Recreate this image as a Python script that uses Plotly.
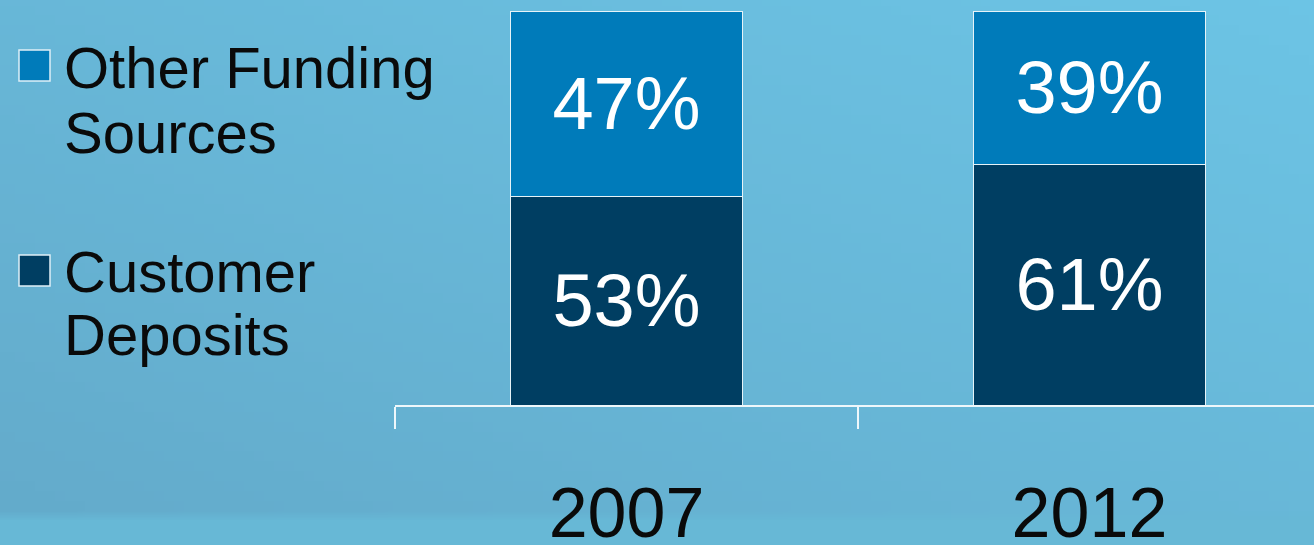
import base64
import struct
import zlib

import plotly.graph_objects as go

years = ["2007", "2012"]
series_names = ["Customer Deposits", "Other Funding Sources"]
customer_deposits = [53, 61]
other_funding = [47, 39]
colors = {"Customer Deposits": "#003E62", "Other Funding Sources": "#007BBA"}

W, H = 1314, 545
L, R, T, B = 395, 0, 11, 140
pw, ph = W - L - R, H - T - B


def px_x(p):
    return (p - L) / pw


def px_y(p):
    return (H - B - p) / ph


FONT = "Arial, Liberation Sans, sans-serif"


# ---- subtle background gradient (decorative) as a small PNG ----
def gradient_png(w=132, h=55):
    tr = (108, 196, 229)   # top-right
    bl = (99, 170, 202)    # bottom-left
    band = (103, 184, 214)  # bottom strip
    rows = b""
    for j in range(h):
        row = b"\x00"
        for i in range(w):
            t = 0.5 * (i / (w - 1)) + 0.5 * (1 - j / (h - 1))  # 1 at top-right
            c = [round(bl[k] + (tr[k] - bl[k]) * t) for k in range(3)]
            if j >= int(h * 520 / 545):
                c = list(band)
            row += bytes(c)
        rows += row

    def chunk(tag, data):
        return struct.pack(">I", len(data)) + tag + data + struct.pack(">I", zlib.crc32(tag + data) & 0xFFFFFFFF)

    png = b"\x89PNG\r\n\x1a\n"
    png += chunk(b"IHDR", struct.pack(">IIBBBBB", w, h, 8, 2, 0, 0, 0))
    png += chunk(b"IDAT", zlib.compress(rows, 9))
    png += chunk(b"IEND", b"")
    return "data:image/png;base64," + base64.b64encode(png).decode()


fig = go.Figure()
for name, vals in [("Customer Deposits", customer_deposits), ("Other Funding Sources", other_funding)]:
    fig.add_trace(go.Bar(
        x=years, y=vals, name=name, width=0.5,
        marker=dict(color=colors[name], line=dict(color="#e6f3f8", width=1)),
        texttemplate="%{y}%", textposition="inside", insidetextanchor="middle",
        textfont=dict(family=FONT, size=74, color="white"),
        showlegend=False, hoverinfo="skip",
    ))

# custom legend (large square markers + text)
legend_items = [
    ("Other Funding Sources", ["Other Funding", "Sources"], 50, [67, 132]),
    ("Customer Deposits", ["Customer", "Deposits"], 255, [271, 334]),
]
for name, lines, top, centers in legend_items:
    fig.add_shape(type="rect", xref="paper", yref="paper",
                  x0=px_x(19), x1=px_x(50), y0=px_y(top + 31), y1=px_y(top),
                  fillcolor=colors[name], line=dict(color="#dff0f7", width=1.5))
    for txt, cy in zip(lines, centers):
        fig.add_annotation(text=txt, xref="paper", yref="paper",
                           x=px_x(62), y=px_y(cy), xanchor="left", yanchor="middle",
                           showarrow=False, font=dict(family=FONT, size=58, color="#0a0a0a"))

fig.add_layout_image(dict(
    source=gradient_png(), xref="paper", yref="paper",
    x=px_x(0), y=px_y(0), sizex=W / pw, sizey=H / ph,
    xanchor="left", yanchor="top", sizing="stretch", layer="below",
))

fig.update_layout(
    width=W, height=H,
    margin=dict(l=L, r=R, t=T, b=B, pad=0, autoexpand=False),
    barmode="stack",
    paper_bgcolor="#67B9DA", plot_bgcolor="rgba(0,0,0,0)",
    xaxis=dict(range=[-0.5, 1.485], showgrid=False, showline=True, linecolor="#eef7fb",
               linewidth=1.5, ticks="outside", tickson="boundaries", ticklen=22,
               tickcolor="#eef7fb", tickwidth=1.5,
               tickfont=dict(family=FONT, size=70, color="#0a0a0a"),
               ticklabelstandoff=46, automargin=False, zeroline=False, fixedrange=True),
    yaxis=dict(range=[0, 100], visible=False, showgrid=False, zeroline=False,
               fixedrange=True, automargin=False),
    showlegend=False,
)

fig.write_html(
    "out.html",
    config={"displayModeBar": False},
    post_script="document.body.style.margin='0';document.body.style.background='#67B9DA';",
)
